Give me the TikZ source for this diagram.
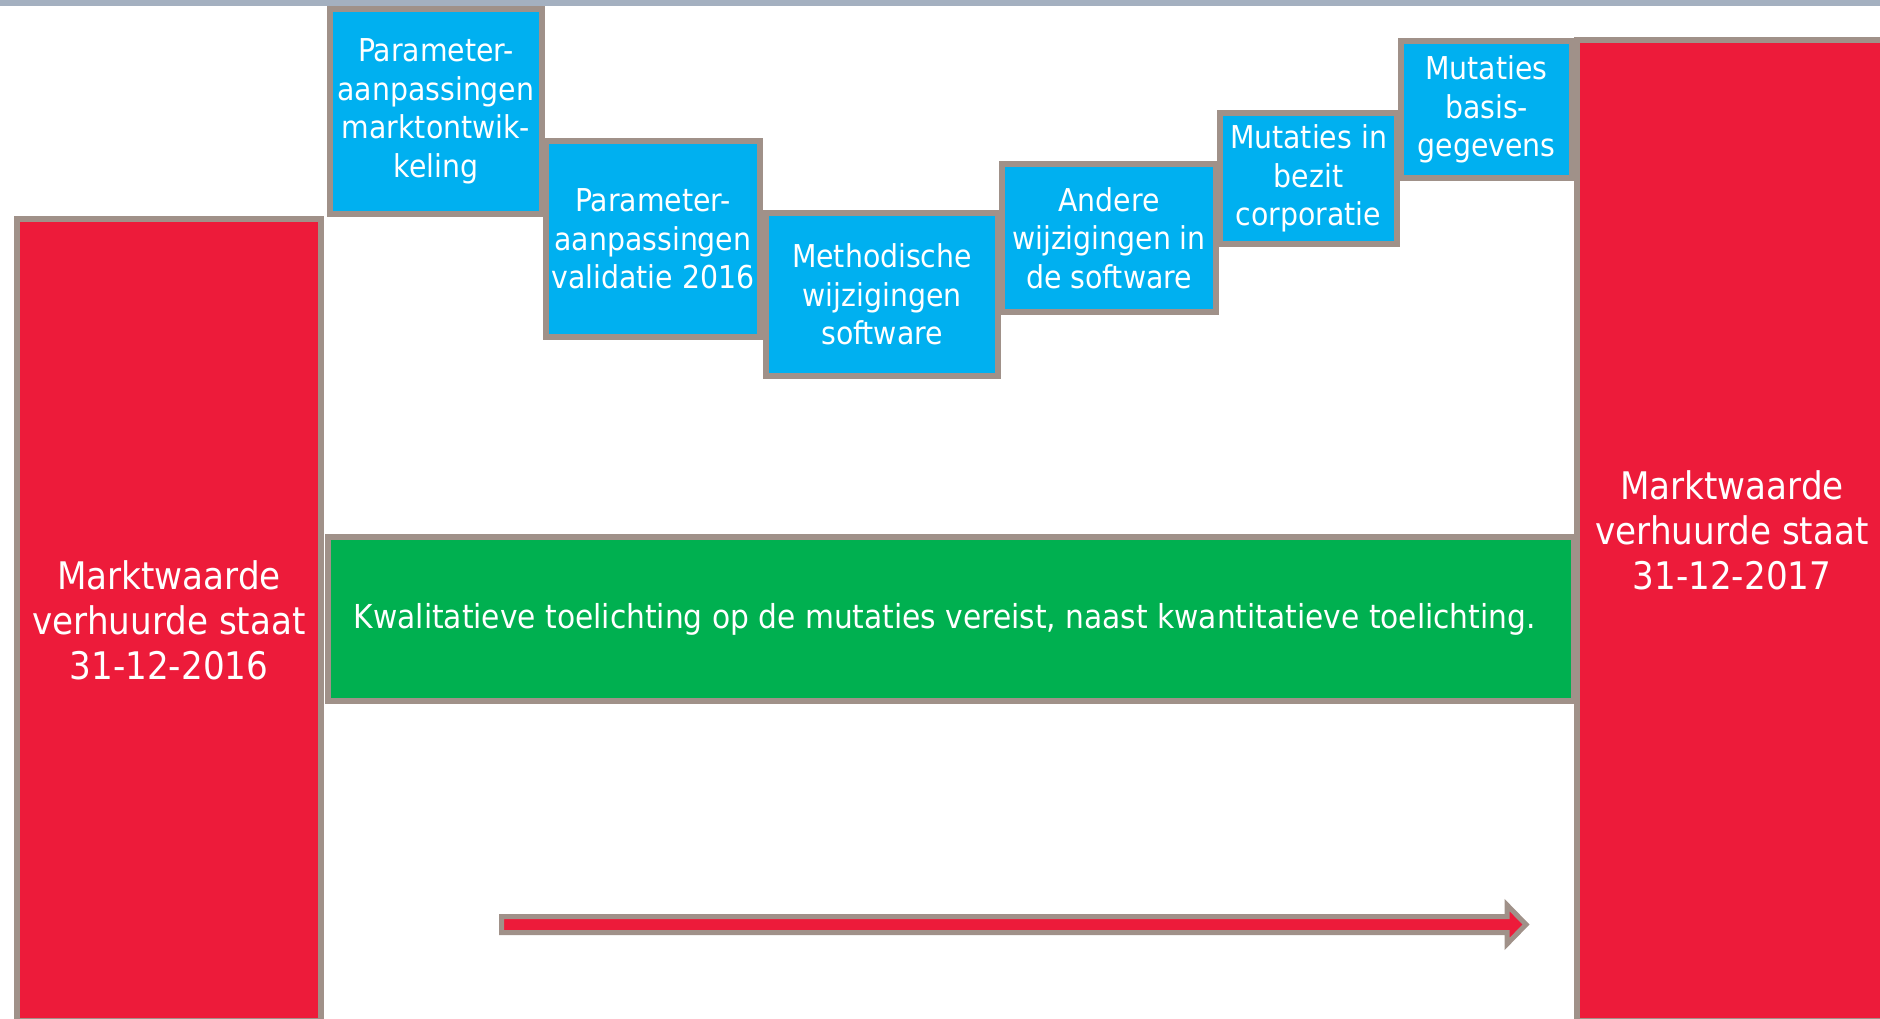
\documentclass[tikz,border=0pt]{standalone}
\usepackage{fontspec}
\setmainfont{DejaVu Sans Condensed}
\definecolor{waardered}{RGB}{237, 27, 58}
\definecolor{mutatieblue}{RGB}{0, 176, 240}
\definecolor{toelichtgreen}{RGB}{0, 176, 80}
\definecolor{randgrey}{RGB}{160, 145, 137}
\definecolor{balkgrey}{RGB}{164, 176, 192}
\usepackage{tikz}
\usetikzlibrary{positioning}

\begin{document}
\begin{tikzpicture}[
  x=1pt, y=-1pt,
  blok/.style={draw=randgrey, line width=6pt, text=white, align=center, inner sep=0pt},
  mutatie/.style={blok, fill=mutatieblue, font=\fontsize{31.5}{38.5}\selectfont},
  waarde/.style={blok, fill=waardered, font=\fontsize{38}{45}\selectfont},
  toelichting/.style={blok, fill=toelichtgreen, font=\fontsize{33}{38}\selectfont}
]
  \clip (0, 0) rectangle (1880, 1018);
  \useasboundingbox (0, 0) rectangle (1880, 1018);
  \fill[balkgrey] (0, 0) rectangle (1880, 6);

  % begin- en eindstand
  \node[waarde, minimum width=304pt, minimum height=802pt] (begin) at (169, 620) {
    Marktwaarde\\ verhuurde staat\\ 31-12-2016
  };
  \node[waarde, minimum width=310pt, minimum height=981pt] (eind) at (1732, 530.5) {
    Marktwaarde\\ verhuurde staat\\ 31-12-2017
  };

  % mutaties
  \node[mutatie, minimum width=212pt, minimum height=205pt] (markt) at (436, 111.5) {
    Parameter-\\ aanpassingen\\ marktontwik-\\ keling
  };
  \node[mutatie, minimum width=214pt, minimum height=196pt] (validatie) at (653, 239) {
    Parameter-\\ aanpassingen\\ validatie 2016
  };
  \node[mutatie, minimum width=232pt, minimum height=163pt] (methodisch) at (882, 294.5) {
    Methodische\\ wijzigingen\\ software
  };
  \node[mutatie, minimum width=214pt, minimum height=148pt] (software) at (1109, 238) {
    Andere\\ wijzigingen in\\ de software
  };
  \node[mutatie, minimum width=177pt, minimum height=131pt] (bezit) at (1308.5, 178.5) {
    Mutaties in\\ bezit\\ corporatie
  };
  \node[mutatie, minimum width=171pt, minimum height=137pt] (basis) at (1486.5, 109.5) {
    Mutaties\\ basis-\\ gegevens
  };

  \node[toelichting, minimum width=1246pt, minimum height=164pt] (kwal) at (951, 619) {
    Kwalitatieve toelichting op de mutaties vereist, naast kwantitatieve toelichting.
  };

  % tijdspijl
  \draw[fill=waardered, draw=randgrey, line width=5pt]
    (501.5, 916.5) -- (1507, 916.5) -- (1507, 905) -- (1526, 924.5)
    -- (1507, 944) -- (1507, 932.5) -- (501.5, 932.5) -- cycle;
\end{tikzpicture}
\end{document}
